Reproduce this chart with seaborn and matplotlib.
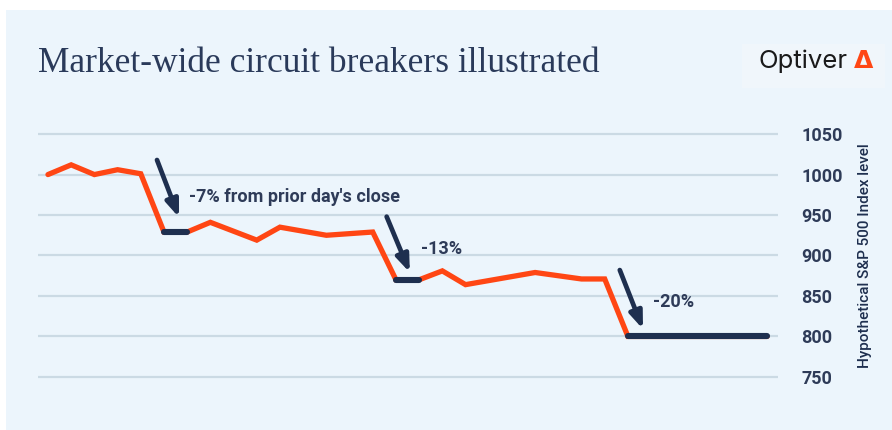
import matplotlib
matplotlib.use("Agg")
import matplotlib.pyplot as plt
import matplotlib.patches as mpatches
import pandas as pd
import seaborn as sns

# hypothetical index path (one point per step)
steps = list(range(32))
level = [1000, 1012, 1000, 1006, 1001, 929, 929, 941, 930, 919, 935, 930,
         925, 927, 929, 870, 870, 881, 864, 869, 874, 879, 875, 871, 871,
         800, 800, 800, 800, 800, 800, 800]
# trading halts (start step, end step)
halts = [(5, 6), (15, 16), (25, 31)]
# annotation labels, arrows: (arrow start, arrow end, text anchor)
labels = ["-7% from prior day's close", "-13%", "-20%"]
arrow_from = [(4.7, 1018), (14.6, 948), (24.65, 882)]
arrow_to = [(5.65, 947), (15.6, 879), (25.65, 809)]
label_at = [(6.1, 972), (16.1, 908), (26.1, 842)]
yticks = [750, 800, 850, 900, 950, 1000, 1050]

ORANGE = "#FF4614"
NAVY = "#1E2F4F"
TEXT = "#2E3B58"
PANEL = "#ECF5FC"
GRID = "#CBDAE4"

sns.set_style("white")
plt.rcParams["font.family"] = ["Roboto", "DejaVu Sans"]

df = pd.DataFrame({"step": steps, "level": level})

fig = plt.figure(figsize=(8.92, 4.30), dpi=100)
fig.patch.set_facecolor("white")
fig.patches.append(mpatches.Rectangle((6 / 892, 0), 1, 1 - 10 / 430,
                                      transform=fig.transFigure,
                                      facecolor=PANEL, edgecolor="none", zorder=-2))
# faint box behind the logo
fig.patches.append(mpatches.Rectangle((742 / 892, 1 - 88 / 430), 143 / 892, 44 / 430,
                                      transform=fig.transFigure,
                                      facecolor="#F0F6FB", edgecolor="none", zorder=-1))

ax = fig.add_axes([38 / 892, 1 - 385 / 430, (778 - 38) / 892, (385 - 126) / 430])
ax.set_zorder(2)
ax.set_facecolor("none")

sns.lineplot(data=df, x="step", y="level", color=ORANGE, linewidth=3.8,
             ax=ax, solid_joinstyle="miter", zorder=3)
for a, b in halts:
    seg = df[(df.step >= a) & (df.step <= b)]
    sns.lineplot(data=seg, x="step", y="level", color=NAVY, linewidth=4.4,
                 ax=ax, solid_capstyle="round", zorder=4)

for txt, p0, p1, pt in zip(labels, arrow_from, arrow_to, label_at):
    ax.annotate("", xy=p1, xytext=p0,
                arrowprops=dict(arrowstyle="-|>,head_length=1.0,head_width=0.38",
                                color=NAVY, lw=3.4, shrinkA=0, shrinkB=0),
                zorder=5)
    ax.text(pt[0], pt[1], txt, color=TEXT, fontsize=13, fontweight="bold",
            va="center", ha="left")

ax.set_xlim(-0.43, 31.47)
ax.set_ylim(740, 1060)
ax.set_yticks(yticks)
ax.yaxis.tick_right()
ax.yaxis.set_label_position("right")
ax.set_xticks([])
ax.set_xlabel("")
ax.set_ylabel("Hypothetical S&P 500 Index level", color=NAVY, fontsize=11,
              fontweight="medium", labelpad=11)
ax.tick_params(axis="y", length=0, pad=17, labelcolor=TEXT, labelsize=13)
for lab in ax.get_yticklabels():
    lab.set_fontweight("bold")
ax.grid(axis="y", color=GRID, linewidth=1.6)
ax.set_axisbelow(True)
for s in ax.spines.values():
    s.set_visible(False)

fig.text(38 / 892, 1 - 72 / 430, "Market-wide circuit breakers illustrated",
         family=["Liberation Serif", "DejaVu Serif"], fontsize=25.5, color="#2A3A5A",
         va="baseline", ha="left")
fig.text(759 / 892, 1 - 68 / 430, "Optiver", family=["Inter", "DejaVu Sans"],
         fontsize=18.5, color="#1A1A1A", va="baseline", ha="left")
fig.text(854 / 892, 1 - 68 / 430, "\u0394", family=["DejaVu Sans"],
         fontsize=18, fontweight="bold", color=ORANGE, va="baseline", ha="left")

fig.savefig("out.png", dpi=100, facecolor=fig.get_facecolor())
